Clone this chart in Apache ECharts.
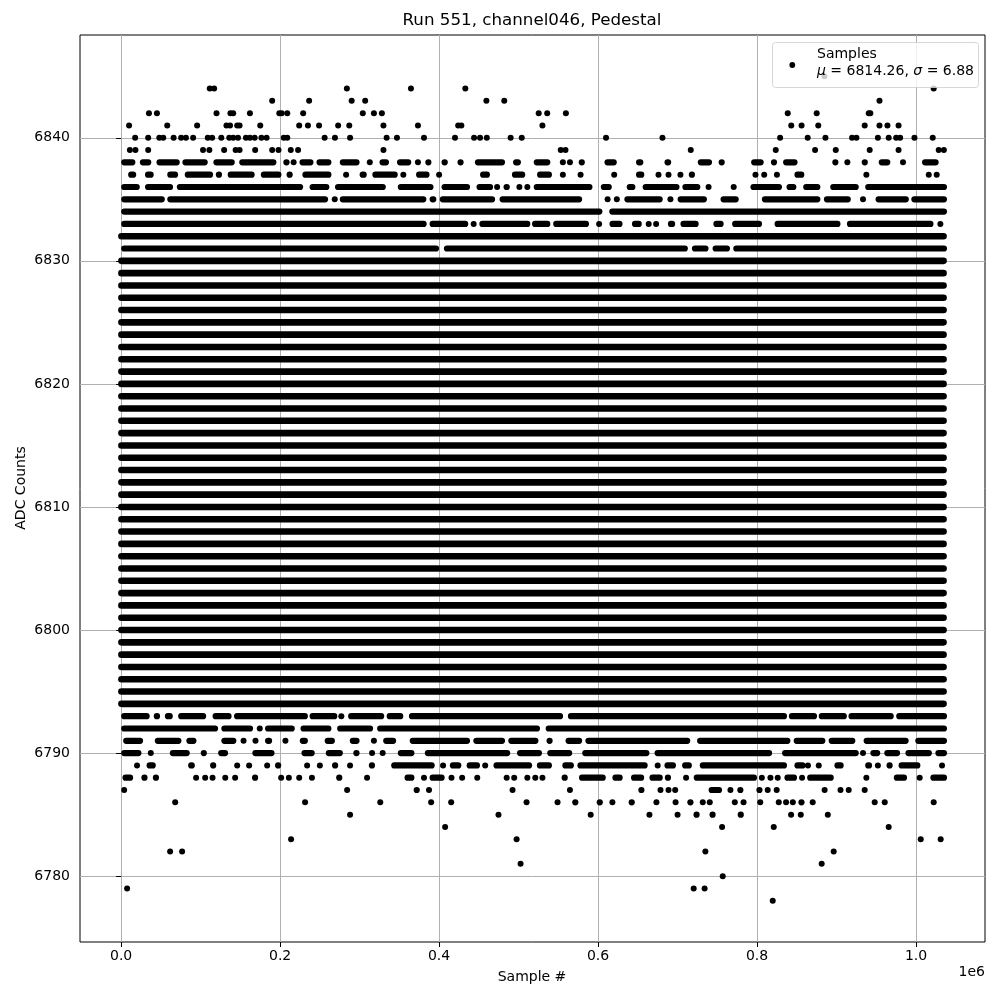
<!DOCTYPE html>
<html><head><meta charset="utf-8">
<script src="https://cdn.jsdelivr.net/npm/echarts@6/dist/echarts.min.js"></script>
<style>html,body{margin:0;padding:0;background:#fff}#chart{width:1000px;height:1000px}</style>
</head><body><div id="chart"></div>
<script>
// ---- data (sample # in units of 1e6, ADC counts) ----
const xTicks = [0, 0.2, 0.4, 0.6, 0.8, 1.0];
const yTicks = [6780, 6790, 6800, 6810, 6820, 6830, 6840];
const firstSample = 0.0;
const lastSample = 1.035;
// ADC levels that are hit continuously over the whole run (first to last sample)
const fullLevels = [6794,6795,6796,6797,6798,6799,6800,6801,6802,6803,6804,6805,6806,6807,6808,6809,6810,
  6811,6812,6813,6814,6815,6816,6817,6818,6819,6820,6821,6822,6823,6824,6825,6826,6827,6828,6829,6830,6832];
// [level, from, to] : stretches where a level is hit densely (upper tail)
const upperRuns = [
  [6838,0,0.018],[6838,0.0235,0.038],[6838,0.0444,0.0738],[6838,0.077,0.109],[6838,0.116,0.143],[6838,0.1485,0.1954],
  [6838,0.204,0.212],[6838,0.2243,0.242],[6838,0.2457,0.2646],[6838,0.275,0.300],[6838,0.325,0.337],[6838,0.347,0.365],
  [6838,0.384,0.389],[6838,0.403,0.411],[6838,0.424,0.430],[6838,0.445,0.483],[6838,0.493,0.503],[6838,0.519,0.540],
  [6838,0.576,0.583],[6838,0.608,0.6236],[6838,0.6477,0.657],[6838,0.6835,0.692],[6838,0.7254,0.7434],[6838,0.753,0.758],
  [6838,0.7925,0.8084],[6838,0.8176,0.825],[6838,0.8327,0.851],[6838,0.8964,0.9006],[6838,0.932,0.939],[6838,0.953,0.9677],
  [6838,1.0075,1.0285],
  [6837,0.0088,0.019],[6837,0.030,0.041],[6837,0.058,0.0717],[6837,0.080,0.1157],[6837,0.120,0.126],[6837,0.134,0.168],
  [6837,0.1757,0.2017],[6837,0.210,0.214],[6837,0.228,0.2646],[6837,0.300,0.309],[6837,0.316,0.348],[6837,0.371,0.388],
  [6837,0.4515,0.464],[6837,0.4916,0.5084],[6837,0.5232,0.542],[6837,0.6477,0.6582],[6837,0.716,0.720],[6837,0.847,0.8595],
  [6836,0,0.0235],[6836,0.030,0.0654],[6836,0.070,0.229],[6836,0.237,0.262],[6836,0.269,0.333],[6836,0.348,0.393],
  [6836,0.403,0.439],[6836,0.447,0.468],[6836,0.481,0.489],[6836,0.519,0.593],[6836,0.6034,0.6173],[6836,0.636,0.647],
  [6836,0.656,0.7025],[6836,0.706,0.7287],[6836,0.7916,0.8314],[6836,0.837,0.8495],[6836,0.858,0.8797],[6836,0.892,0.928],
  [6836,0.936,1.039],
  [6835,0,0.055],[6835,0.058,0.2604],[6835,0.275,0.384],[6835,0.388,0.3966],[6835,0.4008,0.4705],[6835,0.476,0.58],
  [6835,0.633,0.6814],[6835,0.700,0.737],[6835,0.754,0.777],[6835,0.806,0.8797],[6835,0.884,0.918],[6835,0.949,0.991],
  [6835,0.994,1.039],
  [6834,0,0.6055],[6834,0.614,1.039],
  [6833,0,0.3844],[6833,0.388,0.4367],[6833,0.4506,0.5148],[6833,0.5169,0.540],[6833,0.5435,0.5886],[6833,0.6143,0.6308],
  [6833,0.6426,0.655],[6833,0.6878,0.697],[6833,0.7036,0.7266],[6833,0.745,0.758],[6833,0.7686,0.8063],[6833,0.822,0.905],
  [6833,0.913,1.022],
  [6831,0,0.400],[6831,0.406,0.713],[6831,0.718,0.739],[6831,0.744,0.766],[6831,0.770,1.039]
];
// [level, from, to] : lower tail
const lowerRuns = [
  [6793,0,0.036],[6793,0.041,0.049],[6793,0.055,0.065],[6793,0.0717,0.107],[6793,0.115,0.139],[6793,0.142,0.235],
  [6793,0.237,0.272],[6793,0.2855,0.331],[6793,0.334,0.355],[6793,0.362,0.556],[6793,0.562,0.8377],[6793,0.84,0.8755],
  [6793,0.8776,0.913],[6793,0.915,0.972],[6793,0.975,1.039],
  [6792,0,0.122],[6792,0.126,0.166],[6792,0.181,0.2185],[6792,0.2256,0.2646],[6792,0.2717,0.317],[6792,0.322,0.527],
  [6792,0.534,1.039],
  [6791,0.0025,0.0277],[6791,0.0423,0.0759],[6791,0.082,0.0948],[6791,0.126,0.145],[6791,0.181,0.190],[6791,0.2247,0.235],
  [6791,0.256,0.269],[6791,0.2876,0.300],[6791,0.3296,0.346],[6791,0.363,0.439],[6791,0.443,0.483],[6791,0.487,0.525],
  [6791,0.536,0.542],[6791,0.559,0.580],[6791,0.584,0.716],[6791,0.7245,0.842],[6791,0.846,0.886],[6791,0.890,0.9237],
  [6791,0.934,0.9908],[6791,0.999,1.039],
  [6790,0,0.0256],[6790,0.0612,0.0864],[6790,0.101,0.107],[6790,0.122,0.1346],[6790,0.165,0.193],[6790,0.2268,0.2436],
  [6790,0.2574,0.279],[6790,0.292,0.300],[6790,0.348,0.369],[6790,0.382,0.4895],[6790,0.498,0.5295],[6790,0.536,0.5675],
  [6790,0.580,0.6646],[6790,0.671,0.819],[6790,0.8314,0.928],[6790,0.9425,0.955],[6790,0.960,0.980],[6790,0.9866,1.020],
  [6790,1.0243,1.039],
  [6789,0.032,0.0436],[6789,0.0843,0.0927],[6789,0.1136,0.118],[6789,0.1954,0.1996],[6789,0.2667,0.2717],[6789,0.312,0.319],
  [6789,0.3397,0.3945],[6789,0.4135,0.428],[6789,0.4346,0.4515],[6789,0.4684,0.517],[6789,0.523,0.542],[6789,0.555,0.5696],
  [6789,0.574,0.6624],[6789,0.6835,0.698],[6789,0.7057,0.718],[6789,0.7279,0.8377],[6789,0.847,0.861],[6789,0.8973,0.909],
  [6789,0.936,0.9447],[6789,0.9635,0.970],[6789,0.978,1.0055],
  [6788,0.0017,0.0151],[6788,0.0268,0.0319],[6788,0.041,0.0465],[6788,0.165,0.172],[6788,0.2708,0.278],[6788,0.3565,0.369],
  [6788,0.388,0.407],[6788,0.555,0.561],[6788,0.576,0.6097],[6788,0.618,0.631],[6788,0.6414,0.658],[6788,0.6646,0.6814],
  [6788,0.6857,0.690],[6788,0.7203,0.800],[6788,0.8344,0.8503],[6788,0.863,0.8965],[6788,0.972,0.9887],[6788,1.018,1.039],
  [6787,0.369,0.3747],[6787,0.653,0.656],[6787,0.739,0.756],[6787,0.777,0.781],[6787,0.800,0.806],
  [6786,0.568,0.5747],[6786,0.6013,0.603],[6786,0.639,0.6456],[6786,0.7128,0.7195],[6786,0.8537,0.858],
  [6785,0.7203,0.7275],[6785,0.7405,0.7476],[6785,0.778,0.781]
];
// [level, [samples]] : isolated readings
const upperDots = [
  [6845,[0.8847]],
  [6844,[0.1115,0.117,0.284,0.3646,0.433,1.0222]],
  [6843,[0.190,0.2365,0.290,0.307,0.4595,0.482,0.954]],
  [6842,[0.035,0.045,0.120,0.1375,0.141,0.162,0.199,0.202,0.209,0.229,0.304,0.318,0.328,0.5253,0.536,0.5595,0.8386,0.875,0.9405,0.9425]],
  [6841,[0.010,0.058,0.0956,0.1325,0.137,0.146,0.149,0.175,0.224,0.235,0.249,0.273,0.287,0.330,0.3734,0.424,0.428,0.530,0.843,0.856,0.877,0.9354,0.954,0.964,0.978]],
  [6840,[0.0176,0.034,0.048,0.053,0.066,0.0755,0.0815,0.0906,0.109,0.1145,0.126,0.136,0.141,0.147,0.157,0.162,0.168,0.1765,0.183,0.2046,0.209,0.256,0.269,0.288,0.334,0.347,0.381,0.420,0.444,0.4515,0.460,0.490,0.504,0.610,0.681,0.829,0.8637,0.886,0.9195,0.925,0.952,0.9656,0.975,0.980,0.998,1.021]],
  [6839,[0.011,0.018,0.034,0.103,0.111,0.1296,0.144,0.149,0.1686,0.190,0.198,0.2134,0.2226,0.330,0.553,0.559,0.7166,0.8235,0.873,0.899,0.9417,0.978,1.0285,1.035]],
  [6838,[0.217,0.3128,0.3734,0.5557,0.5646,0.9136,0.9836]],
  [6837,[0.283,0.355,0.400,0.5557,0.578,0.6203,0.676,0.6886,0.7036,0.798,0.809,0.825,0.9375,1.016,1.026]],
  [6836,[0.473,0.501,0.511,0.739,0.7706]],
  [6835,[0.2687,0.612,0.6236,0.691,0.9333]],
  [6833,[0.4435,0.6013,0.6637,0.673,1.0306]]
];
const lowerDots = [
  [6793,[0.277]],
  [6792,[0.1744]],
  [6791,[0.154,0.169,0.2067,0.318]],
  [6790,[0.0373,0.3157,0.329,0.9333]],
  [6789,[0.020,0.146,0.161,0.1837,0.234,0.250,0.288,0.405,0.458,0.675,0.864,0.8776,0.952,1.0327]],
  [6788,[0.0943,0.1057,0.115,0.131,0.1434,0.2013,0.211,0.224,0.240,0.3094,0.381,0.4156,0.429,0.448,0.485,0.4945,0.511,0.521,0.530,0.7107,0.806,0.8168,0.826,0.8566,0.9375,1.0046]],
  [6787,[0.0038,0.2843,0.3873,0.4924,0.5646,0.6785,0.6886,0.697,0.7665,0.8134,0.8247,0.885,0.905,0.9153,0.9354]],
  [6786,[0.068,0.2314,0.326,0.390,0.4152,0.510,0.549,0.618,0.6734,0.6975,0.7317,0.7405,0.772,0.783,0.804,0.8273,0.8365,0.845,0.870,0.948,0.9606,1.0222]],
  [6785,[0.288,0.4747,0.5907,0.6646,0.700,0.8428,0.855,0.889]],
  [6784,[0.4076,0.756,0.821,0.9656]],
  [6783,[0.2138,0.4975,1.0059,1.031]],
  [6782,[0.0616,0.0767,0.735,0.8964]],
  [6781,[0.5025,0.8813]],
  [6780,[0.7568]],
  [6779,[0.0075,0.7203,0.734]],
  [6778,[0.8197]]
];
const meanValue = 6814.26;
const sigmaValue = 6.88;

// ---- build ----
const fullData = fullLevels.map(l => [l, firstSample, lastSample]);
const runData = upperRuns.concat(lowerRuns);
const dotData = [];
upperDots.concat(lowerDots).forEach(([lvl, xs]) => xs.forEach(x => dotData.push([x, lvl])));

const FONT = 'DejaVu Sans';
// runs given by outer edges (pad 0) or by sample centres (pad = radius)
function bandRenderer(radius, pad) {
  return function (params, api) {
    const lvl = api.value(0);
    const p0 = api.coord([api.value(1), lvl]);
    const p1 = api.coord([api.value(2), lvl]);
    let x = p0[0] - pad, w = p1[0] - p0[0] + 2 * pad;
    if (w < 2 * radius) { x = (p0[0] + p1[0]) / 2 - radius; w = 2 * radius; }
    return {type: 'rect', shape: {x: x, y: p0[1] - radius, width: w, height: 2 * radius, r: radius}, style: {fill: '#000'}};
  };
}
const chart = echarts.init(document.getElementById('chart'), null, {renderer: 'canvas'});
chart.setOption({
  animation: false,
  backgroundColor: '#fff',
  grid: {left: 80, right: 15, top: 35, bottom: 58, show: true, borderColor: '#000', borderWidth: 1, backgroundColor: 'transparent'},
  xAxis: {
    type: 'value', min: -0.05175, max: 1.08675,
    axisLine: {show: false},
    axisTick: {show: true, customValues: xTicks, length: 5, lineStyle: {color: '#000', width: 1}},
    axisLabel: {customValues: xTicks, formatter: v => v.toFixed(1), fontFamily: FONT, fontSize: 14, color: '#000', margin: 7},
    splitLine: {show: true, lineStyle: {color: '#b0b0b0', width: 1}}
  },
  yAxis: {
    type: 'value', min: 6774.65, max: 6848.35,
    axisLine: {show: false},
    axisTick: {show: true, customValues: yTicks, length: 5, lineStyle: {color: '#000', width: 1}},
    axisLabel: {customValues: yTicks, formatter: v => String(Math.round(v)), fontFamily: FONT, fontSize: 14, color: '#000', margin: 10},
    splitLine: {show: true, lineStyle: {color: '#b0b0b0', width: 1}}
  },
  series: [
    {type: 'custom', name: 'full', data: fullData, encode: {x: [1, 2], y: 0}, renderItem: bandRenderer(3.3, 3)},
    {type: 'custom', name: 'runs', data: runData, encode: {x: [1, 2], y: 0}, renderItem: bandRenderer(3.1, 0)},
    {type: 'scatter', name: 'Samples', data: dotData, symbol: 'circle', symbolSize: 6,
      itemStyle: {color: '#000', opacity: 1}}
  ],
  graphic: [
    {type: 'text', x: 532, y: 21, z: 100, style: {text: 'Run 551, channel046, Pedestal', font: '16.7px "DejaVu Sans"', fill: '#000', align: 'center', verticalAlign: 'middle'}},
    {type: 'text', x: 532, y: 977, z: 100, style: {text: 'Sample #', font: '14px "DejaVu Sans"', fill: '#000', align: 'center', verticalAlign: 'middle'}},
    {type: 'text', x: 985, y: 972, z: 100, style: {text: '1e6', font: '14px "DejaVu Sans"', fill: '#000', align: 'right', verticalAlign: 'middle'}},
    {type: 'text', x: 21, y: 488, rotation: Math.PI / 2, z: 100, style: {text: 'ADC Counts', font: '14px "DejaVu Sans"', fill: '#000', align: 'center', verticalAlign: 'middle'}},
    {type: 'rect', z: 100, shape: {x: 772.5, y: 42.5, width: 206, height: 45, r: 3}, style: {fill: 'rgba(255,255,255,0.8)', stroke: 'rgba(204,204,204,0.8)', lineWidth: 1}},
    {type: 'circle', z: 101, shape: {cx: 792.3, cy: 65, r: 2.9}, style: {fill: '#000'}},
    {type: 'text', x: 817, y: 54.5, z: 101, style: {text: 'Samples', font: '14px "DejaVu Sans"', fill: '#000', align: 'left', verticalAlign: 'middle'}},
    {type: 'text', x: 817, y: 71, z: 101, style: {
      text: '{i|μ} = ' + meanValue.toFixed(2) + ', {i|σ} = ' + sigmaValue.toFixed(2),
      font: '14px "DejaVu Sans"', fill: '#000', align: 'left', verticalAlign: 'middle',
      rich: {i: {fontStyle: 'italic', fontFamily: FONT, fontSize: 14, fill: '#000'}}
    }}
  ]
});
</script></body></html>
